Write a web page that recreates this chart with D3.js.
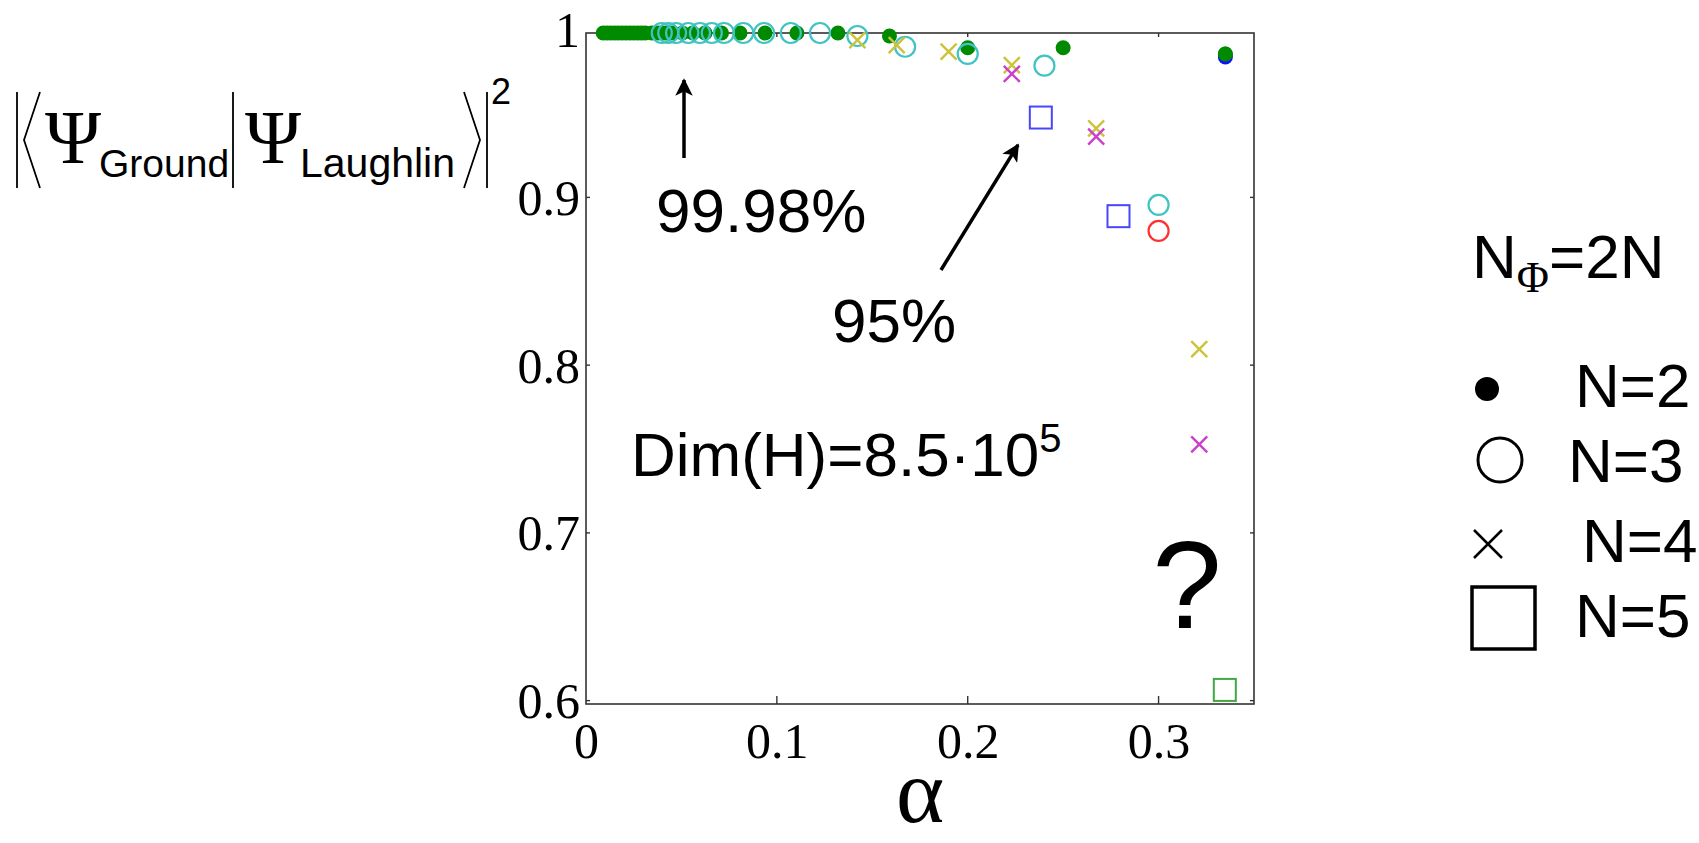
<!DOCTYPE html>
<html><head><meta charset="utf-8">
<script src="https://cdn.jsdelivr.net/npm/d3@7"></script>
<style>
html,body{margin:0;padding:0;background:#fff;}
svg{display:block;}
.serif{font-family:"Liberation Serif","DejaVu Serif",serif;}
.sans{font-family:"Liberation Sans",Arial,sans-serif;}
</style></head>
<body><svg id="c" width="1699" height="843"></svg>
<script>
// ---------- data ----------
const xTicks = [0, 0.1, 0.2, 0.3];
const yTicks = [0.6, 0.7, 0.8, 0.9, 1.0];

// N=2 filled dots (green)
const n2Alpha = [0.009,0.011,0.013,0.015,0.017,0.019,0.021,0.023,0.025,0.027,0.029,0.031,0.0345,0.038,0.0415,0.0457,0.0505,0.056,0.0624,0.071,0.0807,0.0938,0.1105,0.132,0.159,0.2,0.25,0.335];
const n2Value = [0.998,0.998,0.998,0.998,0.998,0.998,0.998,0.998,0.998,0.998,0.998,0.998,0.998,0.998,0.998,0.998,0.998,0.998,0.998,0.998,0.998,0.998,0.998,0.998,0.9962,0.9892,0.9892,0.9855];
// N=2 blue dot hidden behind
const n2bAlpha = [0.335];
const n2bValue = [0.9837];
// N=3 open circles (cyan)
const n3Alpha = [0.0397,0.0431,0.0472,0.0536,0.0597,0.0659,0.0723,0.0824,0.0933,0.1073,0.1226,0.1422,0.1672,0.2,0.2402,0.30];
const n3Value = [0.998,0.998,0.998,0.998,0.998,0.998,0.998,0.998,0.998,0.998,0.998,0.9962,0.9898,0.9855,0.9785,0.8955];
// N=3 red circle
const n3rAlpha = [0.30];
const n3rValue = [0.880];
// N=4 crosses (yellow)
const n4Alpha = [0.1422,0.1628,0.190,0.2231,0.2673,0.3213];
const n4Value = [0.9938,0.9908,0.9869,0.9789,0.9412,0.8096];
// N=4 crosses (magenta)
const n4mAlpha = [0.2231,0.2673,0.3213];
const n4mValue = [0.9736,0.9362,0.7528];
// N=5 squares (blue)
const n5Alpha = [0.2383,0.279];
const n5Value = [0.9476,0.8888];
// N=5 square (green)
const n5gAlpha = [0.3347];
const n5gValue = [0.6064];

const legendLabels = ["N=2","N=3","N=4","N=5"];

// ---------- layout ----------
const svg = d3.select("#c");
const L=586, R=1254, T=33, B=704;
const x = d3.scaleLinear().domain([0,0.35]).range([L,R]);
const y = d3.scaleLinear().domain([0.598,0.998]).range([B,T]);
const zip = (a,b)=>a.map((d,i)=>({a:d,v:b[i]}));

// frame
svg.append("rect").attr("x",L).attr("y",T).attr("width",R-L).attr("height",B-T)
  .attr("fill","none").attr("stroke","#333").attr("stroke-width",1.6);

// ticks (inward)
const tickG = svg.append("g").attr("stroke","#333").attr("stroke-width",1.4);
[0.1,0.2,0.3].forEach(t=>{
  tickG.append("line").attr("x1",x(t)).attr("x2",x(t)).attr("y1",B).attr("y2",B-8);
  tickG.append("line").attr("x1",x(t)).attr("x2",x(t)).attr("y1",T).attr("y2",T+4);
});
[0.6,0.7,0.8,0.9].forEach(t=>{
  tickG.append("line").attr("x1",L).attr("x2",L+4).attr("y1",y(t)).attr("y2",y(t));
  tickG.append("line").attr("x1",R).attr("x2",R-4).attr("y1",y(t)).attr("y2",y(t));
});

// tick labels via axes
const fmt = d => d===0 ? "0" : (d===1 ? "1" : d3.format(".1f")(d));
const xa = svg.append("g").attr("transform",`translate(0,${B})`)
  .call(d3.axisBottom(x).tickValues(xTicks).tickSize(0).tickPadding(18).tickFormat(fmt));
const ya = svg.append("g").attr("transform",`translate(${L-6},0)`)
  .call(d3.axisLeft(y).tickValues(yTicks).tickSize(0).tickPadding(0).tickFormat(fmt));
[xa,ya].forEach(g=>{
  g.select(".domain").remove();
  g.selectAll("text").attr("class","serif").attr("font-size",50).attr("fill","#000");
});
xa.selectAll("text").attr("dy","0.72em");
ya.selectAll("text").attr("dy","0.34em");

// ---------- marks ----------
const plot = svg.append("g");
plot.selectAll(".d2").data(zip(n2Alpha,n2Value)).join("circle")
  .attr("cx",d=>x(d.a)).attr("cy",d=>y(d.v)).attr("r",7.5).attr("fill","#008a00");
plot.selectAll(".d2b").data(zip(n2bAlpha,n2bValue)).join("circle")
  .attr("cx",d=>x(d.a)).attr("cy",d=>y(d.v)).attr("r",7.5).attr("fill","#1010ff");
plot.append("circle").datum({a:n2Alpha[n2Alpha.length-1],v:n2Value[n2Value.length-1]})
  .attr("cx",d=>x(d.a)).attr("cy",d=>y(d.v)).attr("r",7.5).attr("fill","#008a00");

const circ = (arr,col)=>plot.append("g").selectAll("circle").data(arr).join("circle")
  .attr("cx",d=>x(d.a)).attr("cy",d=>y(d.v)).attr("r",10).attr("fill","none")
  .attr("stroke",col).attr("stroke-width",2.2);
circ(zip(n3Alpha,n3Value),"#3fc3c3");
circ(zip(n3rAlpha,n3rValue),"#ff3030");

const cross = (arr,col)=>plot.append("g").selectAll("path").data(arr).join("path")
  .attr("d",d=>{const cx=x(d.a),cy=y(d.v),h=8;return `M${cx-h},${cy-h}L${cx+h},${cy+h}M${cx-h},${cy+h}L${cx+h},${cy-h}`;})
  .attr("stroke",col).attr("stroke-width",2.4).attr("fill","none");
cross(zip(n4Alpha,n4Value),"#cdc33a");
cross(zip(n4mAlpha,n4mValue),"#cc3fcc");

const sq = (arr,col)=>plot.append("g").selectAll("rect").data(arr).join("rect")
  .attr("x",d=>x(d.a)-11).attr("y",d=>y(d.v)-11).attr("width",22).attr("height",22)
  .attr("fill","none").attr("stroke",col).attr("stroke-width",2);
sq(zip(n5Alpha,n5Value),"#4646ff");
sq(zip(n5gAlpha,n5gValue),"#40a840");

// ---------- annotations ----------
const defs = svg.append("defs");
defs.append("marker").attr("id","ah").attr("viewBox","0 0 10 10").attr("refX",9).attr("refY",5)
  .attr("markerWidth",5).attr("markerHeight",5).attr("orient","auto-start-reverse")
  .append("path").attr("d","M0,0L10,5L0,10L2.5,5Z").attr("fill","#000");
svg.append("line").attr("x1",684).attr("y1",158).attr("x2",684).attr("y2",80)
  .attr("stroke","#000").attr("stroke-width",3.5).attr("marker-end","url(#ah)");
svg.append("line").attr("x1",941).attr("y1",270).attr("x2",1018).attr("y2",145)
  .attr("stroke","#000").attr("stroke-width",3.5).attr("marker-end","url(#ah)");

const ann = (t,xx,yy,fs,anchor)=>svg.append("text").attr("class","sans").attr("x",xx).attr("y",yy)
  .attr("font-size",fs).attr("text-anchor",anchor||"start").attr("fill","#000").text(t);
ann("99.98%",656,232,62);
ann("95%",832,342,62);
const dim = ann("Dim(H)=8.5·10",631,476,62);
dim.append("tspan").attr("dy",-24).attr("font-size",40).text("5");
ann("?",1187,628,125,"middle");

// alpha axis title
svg.append("text").attr("class","serif").attr("x",(L+R)/2).attr("y",822)
  .attr("text-anchor","middle").attr("font-size",92).text("α");

// y-axis title  |<Ψ_Ground|Ψ_Laughlin>|^2
const yl = svg.append("g").attr("stroke","#000").attr("stroke-width",1.8).attr("fill","none");
const bTop=92, bBot=188, bMid=(bTop+bBot)/2;
yl.append("line").attr("x1",17).attr("x2",17).attr("y1",bTop).attr("y2",bBot);
yl.append("path").attr("d",`M40,${bTop}L24,${bMid}L40,${bBot}`);
yl.append("line").attr("x1",233).attr("x2",233).attr("y1",bTop).attr("y2",bBot);
yl.append("path").attr("d",`M464,${bTop}L480,${bMid}L464,${bBot}`);
yl.append("line").attr("x1",487).attr("x2",487).attr("y1",bTop).attr("y2",bBot);
const yt = (t,xx,yy,fs,cls)=>svg.append("text").attr("class",cls).attr("x",xx).attr("y",yy)
  .attr("font-size",fs).attr("fill","#000").text(t);
yt("Ψ",45,163,76,"serif");
yt("Ground",99,177,39,"sans");
yt("Ψ",245,163,76,"serif");
yt("Laughlin",300,177,41,"sans");
yt("2",491,104,36,"sans");

// ---------- legend ----------
const lg = svg.append("g");
const nphi = lg.append("text").attr("class","sans").attr("x",1472).attr("y",278).attr("font-size",62).text("N");
nphi.append("tspan").attr("class","serif").attr("font-size",44).attr("dy",14).text("Φ");
nphi.append("tspan").attr("dy",-14).text("=2N");

const legY = [407,482,562,637];
const legX = [1575,1568,1582,1575];
legendLabels.forEach((t,i)=>{
  lg.append("text").attr("class","sans").attr("x",legX[i]).attr("y",legY[i]).attr("font-size",62).text(t);
});
lg.append("circle").attr("cx",1487).attr("cy",389).attr("r",12).attr("fill","#000");
lg.append("circle").attr("cx",1500).attr("cy",460).attr("r",22).attr("fill","none").attr("stroke","#000").attr("stroke-width",3);
lg.append("path").attr("d","M1474,530L1502,558M1474,558L1502,530").attr("stroke","#000").attr("stroke-width",2.5);
lg.append("rect").attr("x",1472).attr("y",587).attr("width",63).attr("height",62).attr("fill","none").attr("stroke","#000").attr("stroke-width",3.5);
</script></body></html>
